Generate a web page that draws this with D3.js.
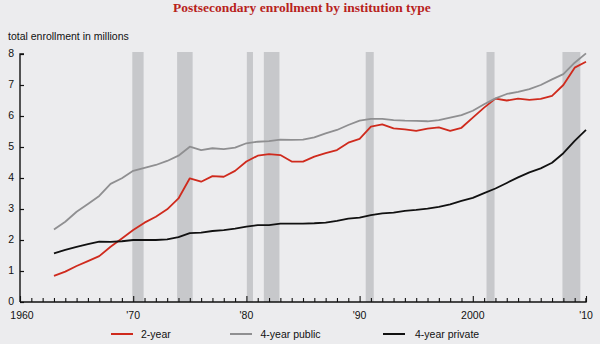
<!DOCTYPE html>
<html>
<head>
<meta charset="utf-8">
<script src="https://cdn.jsdelivr.net/npm/d3@7"></script>
<style>
  html, body { margin: 0; padding: 0; background: #ececee; }
  svg { display: block; }
</style>
</head>
<body>
<svg id="chart" width="600" height="344"></svg>
<script>
// Fall enrollment, millions of students, 1963–2010
const years = d3.range(1963, 2011);
const twoYear = [0.84, 0.98, 1.16, 1.32, 1.48, 1.78, 2.05, 2.32, 2.56, 2.75, 2.99, 3.34,
  3.99, 3.88, 4.06, 4.04, 4.23, 4.53, 4.72, 4.77, 4.74, 4.53, 4.53, 4.69, 4.80, 4.90,
  5.14, 5.26, 5.66, 5.73, 5.60, 5.57, 5.52, 5.59, 5.63, 5.52, 5.62, 5.95, 6.27, 6.56,
  6.50, 6.56, 6.52, 6.55, 6.65, 7.00, 7.56, 7.75];
const fourYearPublic = [2.34, 2.59, 2.91, 3.16, 3.42, 3.81, 3.99, 4.23, 4.33, 4.42, 4.55, 4.72,
  5.01, 4.90, 4.96, 4.93, 4.98, 5.12, 5.17, 5.19, 5.24, 5.23, 5.24, 5.31, 5.44, 5.55,
  5.71, 5.85, 5.91, 5.91, 5.87, 5.85, 5.84, 5.83, 5.87, 5.95, 6.03, 6.17, 6.38, 6.57,
  6.71, 6.78, 6.87, 7.00, 7.18, 7.35, 7.72, 8.02];
const fourYearPrivate = [1.57, 1.68, 1.78, 1.87, 1.95, 1.94, 1.96, 2.00, 2.00, 2.00, 2.02, 2.09,
  2.22, 2.24, 2.29, 2.32, 2.37, 2.43, 2.48, 2.48, 2.53, 2.53, 2.53, 2.54, 2.56, 2.62,
  2.69, 2.72, 2.80, 2.86, 2.88, 2.94, 2.97, 3.01, 3.07, 3.15, 3.26, 3.36, 3.51, 3.66,
  3.84, 4.02, 4.18, 4.31, 4.49, 4.80, 5.20, 5.55];

// Recession periods (start, end) in fractional years
const recessions = [[1969.92, 1970.92], [1973.88, 1975.25], [1980.04, 1980.58],
  [1981.54, 1982.92], [1990.54, 1991.25], [2001.21, 2001.92], [2007.92, 2009.5]];

const yTicks = [0, 1, 2, 3, 4, 5, 6, 7, 8];
const xTickYears = [1960, 1970, 1980, 1990, 2000, 2010];
const xTickLabels = ["1960", "'70", "'80", "'90", "2000", "'10"];

const seriesNames = ["2-year", "4-year public", "4-year private"];
const seriesColors = ["#cf2a1d", "#8f8f91", "#111111"];
const seriesValues = [twoYear, fourYearPublic, fourYearPrivate];

const svg = d3.select("#chart");
const x = d3.scaleLinear().domain([1960, 2010]).range([20, 586]);
const y = d3.scaleLinear().domain([0, 8]).range([302, 54]);

// Title and axis caption
svg.append("text")
  .attr("x", 302).attr("y", 12)
  .attr("text-anchor", "middle")
  .attr("font-family", "'Liberation Serif', 'Times New Roman', serif")
  .attr("font-weight", "bold")
  .attr("font-size", 13.5)
  .attr("fill", "#b8231c")
  .text("Postsecondary enrollment by institution type");

svg.append("text")
  .attr("x", 8).attr("y", 40)
  .attr("font-family", "'Liberation Sans', Arial, sans-serif")
  .attr("font-size", 10.5)
  .attr("fill", "#111")
  .text("total enrollment in millions");

// Recession bands
svg.append("g").selectAll("rect")
  .data(recessions)
  .join("rect")
  .attr("x", d => x(d[0]))
  .attr("width", d => x(d[1]) - x(d[0]))
  .attr("y", y(8) - 2)
  .attr("height", y(0) - y(8) + 2)
  .attr("fill", "#c7c8cb");

// Series lines
const line = d3.line()
  .x((d, i) => x(years[i]))
  .y(d => y(d));

svg.append("g").selectAll("path")
  .data(seriesValues)
  .join("path")
  .attr("d", d => line(d))
  .attr("fill", "none")
  .attr("stroke", (d, i) => seriesColors[i])
  .attr("stroke-width", 1.8)
  .attr("stroke-linejoin", "round");

// Y axis with inward ticks
const yAxis = d3.axisRight(y).tickValues(yTicks).tickSize(4).tickFormat("");
const gy = svg.append("g").attr("transform", `translate(${x(1960)},0)`).call(yAxis);
gy.select(".domain").attr("d", `M4,${y(8)}H0V${y(0)}`).attr("stroke", "#111").attr("stroke-width", 1.4);
gy.selectAll(".tick line").attr("stroke", "#111").attr("stroke-width", 1.2);

svg.append("g").selectAll("text")
  .data(yTicks)
  .join("text")
  .attr("x", 14).attr("y", d => y(d) + 3)
  .attr("text-anchor", "end")
  .attr("font-family", "'Liberation Sans', Arial, sans-serif")
  .attr("font-size", 10.5)
  .attr("fill", "#111")
  .text(d => d);

// X axis: yearly minor ticks, decade major ticks, pointing up
const gx = svg.append("g").attr("transform", `translate(0,${y(0)})`);
const minor = d3.axisTop(x).tickValues(d3.range(1960, 2011)).tickSize(4).tickFormat("");
gx.call(minor);
gx.select(".domain").attr("d", `M${x(1960)},0H${x(2010)}V-4`).attr("stroke", "#111").attr("stroke-width", 1.4);
gx.selectAll(".tick line")
  .attr("stroke", "#111").attr("stroke-width", 1.1)
  .attr("y2", d => (d % 10 === 0 ? -6 : -4));

svg.append("g").selectAll("text")
  .data(xTickYears)
  .join("text")
  .attr("x", d => x(d) + (d === 1960 ? 2 : 0)).attr("y", 318.5)
  .attr("text-anchor", "middle")
  .attr("font-family", "'Liberation Sans', Arial, sans-serif")
  .attr("font-size", 10.5)
  .attr("fill", "#111")
  .text((d, i) => xTickLabels[i]);

// Legend
const legendX = [111, 230, 383];
const lg = svg.append("g").selectAll("g")
  .data(seriesNames)
  .join("g")
  .attr("transform", (d, i) => `translate(${legendX[i]},334)`);
lg.append("line")
  .attr("x1", 0).attr("x2", 22).attr("y1", 0).attr("y2", 0)
  .attr("stroke", (d, i) => seriesColors[i])
  .attr("stroke-width", 2);
lg.append("text")
  .attr("x", (d, i) => (i === 0 ? 30 : i === 1 ? 30.5 : 32)).attr("y", 4)
  .attr("font-family", "'Liberation Sans', Arial, sans-serif")
  .attr("font-size", 10.5)
  .attr("fill", "#111")
  .text(d => d);
</script>
</body>
</html>
